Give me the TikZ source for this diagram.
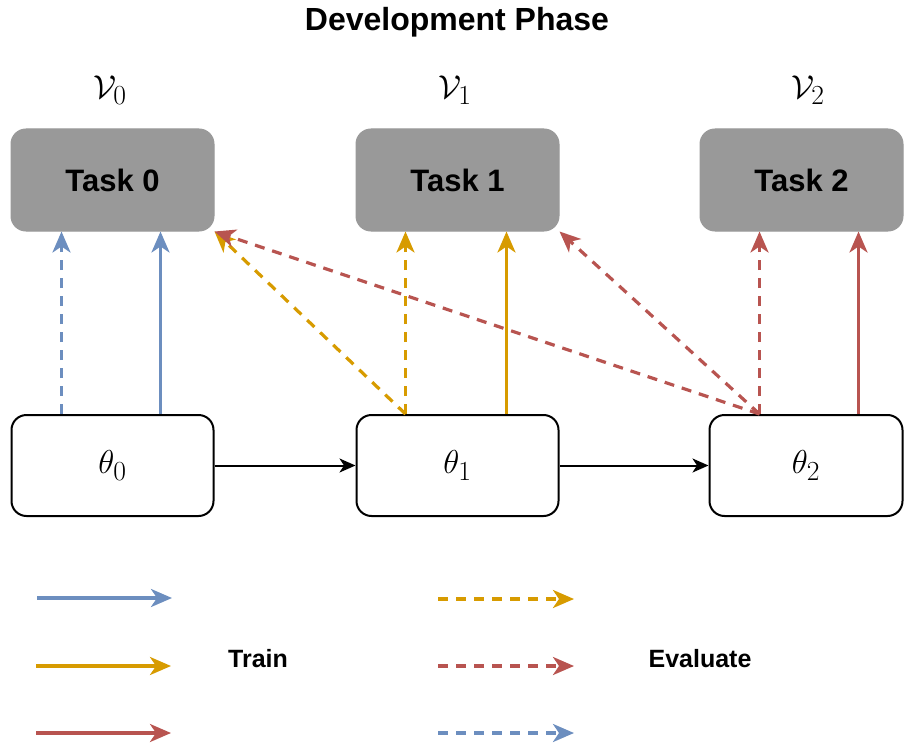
\documentclass[tikz,border=0pt]{standalone}
\usepackage[no-math]{fontspec}
\setmainfont{Liberation Sans}
\usetikzlibrary{arrows.meta,calc}
\definecolor{cblue}{HTML}{6C8EBF}
\definecolor{cyellow}{HTML}{D79B00}
\definecolor{cred}{HTML}{B85450}
\definecolor{cgray}{HTML}{999999}
\newcommand{\bigmath}[1]{\scalebox{1.33}{\fontsize{24.88}{30}\selectfont$#1$}}
\begin{document}
\begin{tikzpicture}[x=1pt,y=-1pt,
  taskbox/.style={rectangle,rounded corners=15pt,fill=cgray,draw=cgray,line width=1pt,
    minimum width=203pt,minimum height=102pt,inner sep=0pt,
    font=\fontsize{31}{36}\selectfont\bfseries},
  thetabox/.style={rectangle,rounded corners=15pt,fill=white,draw=black,line width=2pt,
    minimum height=101pt,inner sep=0pt},
  vlabel/.style={inner sep=0pt},
  legtext/.style={inner sep=0pt,font=\fontsize{25}{30}\selectfont\bfseries},
  carrow/.style={line width=3.2pt,-{Stealth[length=21pt,width=18pt,inset=6pt]}},
  darrow/.style={carrow,dash pattern=on 10pt off 8pt},
  karrow/.style={line width=2pt,-{Stealth[length=16pt,width=14pt,inset=4.5pt]}}
]
\useasboundingbox (0,0) rectangle (904,746);

\node[inner sep=0pt,font=\fontsize{32}{38}\selectfont\bfseries] (title) at (457,22) {Development Phase};

\node[vlabel] (v0) at (110,90) {\bigmath{\mathcal{V}_0}};
\node[vlabel] (v1) at (455,90) {\bigmath{\mathcal{V}_1}};
\node[vlabel] (v2) at (808,90) {\bigmath{\mathcal{V}_2}};

\node[taskbox] (t0) at (112.5,180) {Task 0};
\node[taskbox] (t1) at (457.5,180) {Task 1};
\node[taskbox] (t2) at (801.5,180) {Task 2};

\node[thetabox,minimum width=202pt] (th0) at (112.5,465.5) {\bigmath{\theta_0}};
\node[thetabox,minimum width=202pt] (th1) at (457.5,465.5) {\bigmath{\theta_1}};
\node[thetabox,minimum width=193pt] (th2) at (806,465.5) {\bigmath{\theta_2}};

% train / evaluate vertical arrows
\draw[darrow,cblue] ([xshift=51pt]th0.north west) -- ([xshift=51pt]t0.south west);
\draw[carrow,cblue] ([xshift=150pt]th0.north west) -- ([xshift=150pt]t0.south west);
\draw[darrow,cyellow] ([xshift=50pt]th1.north west) -- ([xshift=50pt]t1.south west);
\draw[carrow,cyellow] ([xshift=151pt]th1.north west) -- ([xshift=151pt]t1.south west);
\draw[darrow,cred] ([xshift=51pt]th2.north west) -- ([xshift=60pt]t2.south west);
\draw[carrow,cred] ([xshift=150pt]th2.north west) -- ([xshift=159pt]t2.south west);

% diagonal evaluation arrows
\draw[darrow,cyellow] ([xshift=50pt]th1.north west) -- (t0.south east);
\draw[darrow,cred] ([xshift=51pt]th2.north west) -- (t0.south east);
\draw[darrow,cred] ([xshift=51pt]th2.north west) -- (t1.south east);

% sequence arrows
\draw[karrow] (th0.east) -- (th1.west);
\draw[karrow] (th1.east) -- (th2.west);

% legend
\coordinate (la1) at (37,598); \coordinate (lb1) at (172,598);
\coordinate (la2) at (36,666); \coordinate (lb2) at (171,666);
\coordinate (la3) at (36,733); \coordinate (lb3) at (171,733);
\coordinate (lc1) at (438,599); \coordinate (ld1) at (574,599);
\coordinate (lc2) at (438,666); \coordinate (ld2) at (574,666);
\coordinate (lc3) at (438,733); \coordinate (ld3) at (574,733);
\draw[carrow,cblue] (la1) -- (lb1);
\draw[carrow,cyellow] (la2) -- (lb2);
\draw[carrow,cred] (la3) -- (lb3);
\draw[darrow,cyellow] (lc1) -- (ld1);
\draw[darrow,cred] (lc2) -- (ld2);
\draw[darrow,cblue] (lc3) -- (ld3);
\node[legtext] (train) at (258,659) {Train};
\node[legtext] (eval) at (700,659) {Evaluate};
\end{tikzpicture}
\end{document}
